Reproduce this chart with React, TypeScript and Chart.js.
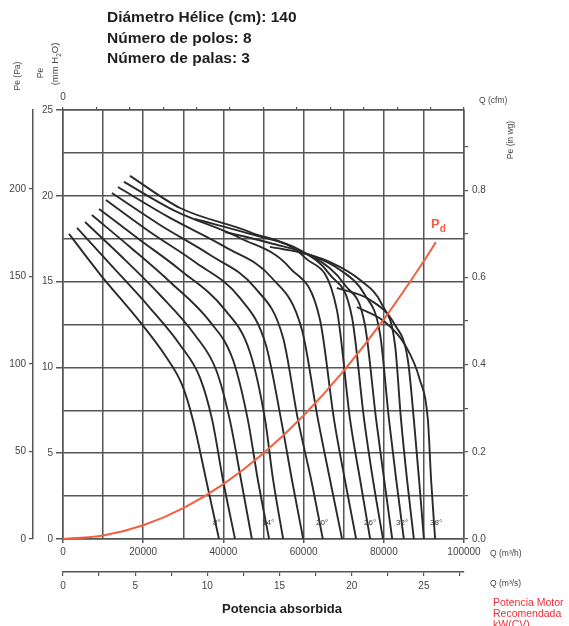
import React, { useEffect, useRef } from 'react';
import { Chart, registerables } from 'chart.js';

Chart.register(...registerables);

// ---- axis ranges ----
const Q_MAX_M3H = 100000;
const PE_MAX_MM = 25;
const PA_PER_MM = 9.80665;
const MM_PER_INWG = 25.4;
const M3H_PER_CFM = 1.69901;

// ---- blade angle curves: [Q m3/h, Pe mmH2O] ----
const C08 = [[1500,17.78],[9200,15.44],[19200,12.65],[25400,10.72],[29700,8.98],[32400,6.94],[35700,3.44],[38900,0]];
const C10 = [[3500,18.13],[11700,16.03],[21700,13.46],[29200,11.31],[34200,9.38],[37200,6.94],[39900,3.44],[42900,0]];
const C12 = [[5500,18.47],[14200,16.55],[24200,14.22],[32900,11.89],[38200,9.85],[41600,6.94],[44400,3.44],[47100,0]];
const C14 = [[7200,18.88],[16700,17.02],[26700,14.98],[36700,12.65],[42400,10.43],[46100,6.94],[48600,3.44],[51400,0]];
const C16 = [[9000,19.23],[19200,17.43],[29200,15.68],[40400,13.35],[46600,10.9],[50400,6.94],[52400,3.44],[54900,0]];
const C18 = [[10700,19.76],[21700,17.89],[32900,16.14],[44100,14.05],[50600,11.31],[54400,6.94],[57100,3.44],[59900,0]];
const C20 = [[12200,20.16],[24200,18.3],[36700,16.55],[47900,14.63],[54900,11.71],[58600,6.94],[61900,3.44],[64800,0]];
const C22 = [[13700,20.51],[26700,18.71],[40400,17.02],[52100,15.21],[59600,12.18],[63600,6.94],[66600,3.44],[69600,0]];
const C24 = [[15200,20.81],[27900,19.12],[44100,17.54],[56600,15.79],[64100,12.76],[67600,6.94],[70300,3.44],[73100,0]];
const C26 = [[16700,21.16],[29200,19.29],[46600,17.89],[60400,16.38],[68300,13.35],[71600,6.94],[74100,3.44],[76600,0]];
const C28 = [[32900,18.65],[46600,17.78],[59100,16.84],[66600,15.39],[72100,12.88],[75100,6.94],[77300,3.44],[79800,0]];
const C30 = [[40400,17.89],[51600,17.25],[62800,16.38],[70300,14.8],[75300,12.47],[78100,6.94],[80100,3.44],[82100,0]];
const C32 = [[51600,17.02],[61600,16.55],[69100,15.68],[75300,14.22],[79100,11.89],[81300,6.94],[83100,3.44],[85000,0]];
const C34 = [[59100,16.73],[66600,16.14],[74100,15.09],[79600,13.64],[82800,11.31],[84300,6.94],[85800,3.44],[87500,0]];
const C36 = [[68300,14.63],[76600,13.93],[82800,12.47],[86000,10.43],[87500,6.94],[88800,3.44],[90000,0]];
const C38 = [[73300,13.52],[80300,12.65],[85300,11.31],[89000,9.27],[91000,6.94],[91800,3.44],[92800,0]];
const BLADE_CURVES = [C08, C10, C12, C14, C16, C18, C20, C22, C24, C26, C28, C30, C32, C34, C36, C38];

// ---- dynamic pressure Pd ----
const PD_Q = [0, 10000, 20000, 30000, 40000, 50000, 60000, 70000, 80000, 90000, 93000];
const PD_MM = [0, 0.2, 0.8, 1.8, 3.2, 5.0, 7.2, 9.8, 12.8, 16.2, 17.3];

// ---- texts ----
const HEADER_LINES = ['Diámetro Hélice (cm): 140', 'Número de polos: 8', 'Número de palas: 3'];
const ANGLE_LABELS = ['8°', '14°', '20°', '26°', '32°', '38°'];
const ANGLE_LABEL_X = [213, 262, 316, 364, 396, 430];

const GRID = '#555555';
const TICK_TXT = '#444444';
const RED = '#f1603f';
const FONT = "'Liberation Sans', Arial, Helvetica, sans-serif";

export default function App() {
  const ref = useRef<HTMLCanvasElement | null>(null);

  useEffect(() => {
    if (!ref.current) return;
    const tickFont = { family: FONT, size: 10 };
    const datasets: any[] = [
      {
        data: PD_Q.map((q, i) => ({ x: q, y: PD_MM[i] })),
        borderColor: RED,
        borderWidth: 2,
        pointRadius: 0,
        cubicInterpolationMode: 'monotone',
        order: 0,
        xAxisID: 'x',
        yAxisID: 'y',
      },
      ...BLADE_CURVES.map((c) => ({
        data: c.map(([q, p]) => ({ x: q, y: p })),
        borderColor: '#2a2a2a',
        borderWidth: 1.9,
        pointRadius: 0,
        cubicInterpolationMode: 'monotone',
        order: 1,
        xAxisID: 'x',
        yAxisID: 'y',
      })),
    ];

    const chart = new Chart(ref.current, {
      type: 'line',
      data: { datasets },
      options: {
        animation: false,
        responsive: false,
        devicePixelRatio: 1,
        layout: { padding: { left: 0, right: 75, top: 85, bottom: 24 } },
        plugins: { legend: { display: false }, tooltip: { enabled: false } },
        scales: {
          x: {
            type: 'linear', position: 'bottom', weight: 0,
            min: 0, max: Q_MAX_M3H,
            ticks: {
              stepSize: 10000, autoSkip: false, maxRotation: 0, includeBounds: false,
              font: tickFont, color: TICK_TXT, padding: 3,
              callback: (v: any) => (Number(v) % 20000 === 0 ? String(v) : ''),
            },
            grid: {
              color: GRID, lineWidth: 1.5, tickLength: 4,
              tickColor: (ctx: any) => (ctx.tick && ctx.tick.value % 20000 === 0 ? GRID : 'rgba(0,0,0,0)'),
            },
            border: { color: GRID, width: 1.5 },
            afterFit: (s: any) => { s.height = 33; },
          },
          xs: {
            type: 'linear', position: 'bottom', weight: 1,
            min: 0, max: Q_MAX_M3H / 3600,
            ticks: {
              stepSize: 2.5, autoSkip: false, maxRotation: 0, includeBounds: false,
              font: tickFont, color: TICK_TXT, padding: 4,
              callback: (v: any) => (Math.abs(Number(v) % 5) < 1e-6 ? String(v) : ''),
            },
            grid: { drawOnChartArea: false, color: GRID, lineWidth: 1.2, tickLength: 4 },
            border: { color: GRID, width: 1.5 },
            afterFit: (s: any) => { s.height = 30; },
          },
          xt: {
            type: 'linear', position: 'top',
            min: 0, max: Q_MAX_M3H / M3H_PER_CFM,
            ticks: {
              stepSize: 5000, autoSkip: false, maxRotation: 0, includeBounds: false,
              font: tickFont, color: TICK_TXT, padding: 4,
              callback: (v: any) => (Number(v) % 10000 === 0 ? String(v) : ''),
            },
            grid: { drawOnChartArea: false, color: GRID, lineWidth: 1.2, tickLength: 3 },
            border: { color: GRID, width: 1.5 },
            afterFit: (s: any) => { s.height = 25; },
          },
          y: {
            type: 'linear', position: 'left', weight: 0,
            min: 0, max: PE_MAX_MM,
            ticks: {
              stepSize: 2.5, autoSkip: false, includeBounds: false,
              font: tickFont, color: TICK_TXT, padding: 3,
              callback: (v: any) => (Math.abs(Number(v) % 5) < 1e-6 ? String(v) : ''),
            },
            grid: {
              color: GRID, lineWidth: 1.5, tickLength: 7,
              tickColor: (ctx: any) => (ctx.tick && Math.abs(ctx.tick.value % 5) < 1e-6 ? GRID : 'rgba(0,0,0,0)'),
            },
            border: { color: GRID, width: 1.5 },
            afterFit: (s: any) => { s.width = 30; },
          },
          yp: {
            type: 'linear', position: 'left', weight: 1,
            min: 0, max: PE_MAX_MM * PA_PER_MM,
            ticks: {
              stepSize: 50, autoSkip: false, includeBounds: false,
              font: tickFont, color: TICK_TXT, padding: 3,
            },
            grid: { drawOnChartArea: false, color: GRID, lineWidth: 1.2, tickLength: 4 },
            border: { color: GRID, width: 1.5 },
            afterFit: (s: any) => { s.width = 33; },
          },
          yr: {
            type: 'linear', position: 'right',
            min: 0, max: PE_MAX_MM / MM_PER_INWG,
            ticks: {
              stepSize: 0.1, autoSkip: false, includeBounds: false,
              font: tickFont, color: TICK_TXT, padding: 4,
              callback: (v: any) => (Math.round(Number(v) * 10) % 2 === 0 ? Number(v).toFixed(1) : ''),
            },
            grid: { drawOnChartArea: false, color: GRID, lineWidth: 1.2, tickLength: 4 },
            border: { color: GRID, width: 1.5 },
            afterFit: (s: any) => { s.width = 30; },
          },
        },
      } as any,
    });
    return () => chart.destroy();
  }, []);

  const abs = (l: number, t: number, extra: any = {}) => ({ position: 'absolute' as const, left: l, top: t, whiteSpace: 'nowrap' as const, ...extra });
  const rot = (cx: number, cy: number, size: number) => ({
    position: 'absolute' as const, left: cx, top: cy, whiteSpace: 'nowrap' as const,
    transform: 'translate(-50%, -50%) rotate(-90deg)', fontSize: size, color: '#444', lineHeight: 1,
  });
  const small = { fontSize: 8.5, color: '#444', lineHeight: 1 };

  return (
    <div style={{ position: 'absolute', left: 0, top: 0, width: 569, height: 626, overflow: 'hidden', background: '#fff', fontFamily: FONT }}>
      <canvas ref={ref} width={569} height={626} style={{ position: 'absolute', left: 0, top: 0, width: 569, height: 626 }} />
      {HEADER_LINES.map((t, i) => (
        <div key={t} style={abs(107, 8 + i * 20.5, { fontSize: 15.5, fontWeight: 'bold', color: '#1e1e1e', lineHeight: '18px' })}>{t}</div>
      ))}
      <div style={rot(17, 76, 8.5)}>Pe (Pa)</div>
      <div style={rot(40, 73, 8.5)}>Pe</div>
      <div style={rot(56, 64, 9.5)}>(mm H<sub style={{ fontSize: 6.5 }}>2</sub>O)</div>
      <div style={abs(479, 96, small)}>Q (cfm)</div>
      <div style={rot(510, 140, 8.5)}>Pe (in wg)</div>
      <div style={abs(490, 549, small)}>Q (m³/h)</div>
      <div style={abs(490, 579, small)}>Q (m³/s)</div>
      <div style={abs(222, 602, { fontSize: 13, fontWeight: 'bold', color: '#1e1e1e', lineHeight: 1 })}>Potencia absorbida</div>
      <div style={abs(493, 597, { fontSize: 10.5, color: '#e8303a', lineHeight: '11px' })}>
        Potencia Motor<br />Recomendada<br />kW(CV)
      </div>
      <div style={abs(431, 217, { fontSize: 13, color: RED, fontWeight: 'bold', lineHeight: 1 })}>
        P<span style={{ fontSize: 10, position: 'relative', top: 4 }}>d</span>
      </div>
      {ANGLE_LABELS.map((t, i) => (
        <div key={t} style={abs(ANGLE_LABEL_X[i], 519, { fontSize: 8, color: '#333', lineHeight: 1 })}>{t}</div>
      ))}
    </div>
  );
}
